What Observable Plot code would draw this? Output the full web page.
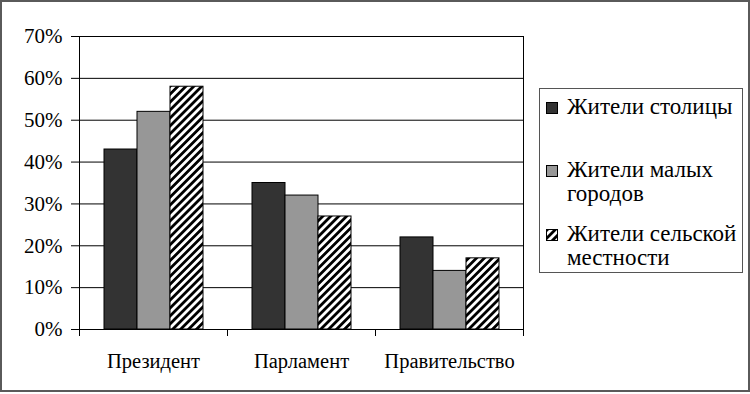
<!DOCTYPE html>
<html>
<head>
<meta charset="utf-8">
<script src="https://cdn.jsdelivr.net/npm/d3@7"></script>
<script src="https://cdn.jsdelivr.net/npm/@observablehq/plot@0.6"></script>
<style>
  html, body { margin: 0; padding: 0; background: #fff; }
  #wrap { position: relative; width: 750px; height: 394px; overflow: hidden; font-family: "Liberation Serif", "DejaVu Serif", "Times New Roman", serif; }
  #border { position: absolute; left: 0; top: 0; width: 746px; height: 388px; border: 2px solid #5a5a5a; }
  #chart { position: absolute; left: 0; top: 0; }
  #legend { position: absolute; left: 539px; top: 88px; width: 202px; height: 183px; border: 1.5px solid #555; background: #fff; }
  .item { position: absolute; left: 0; font-family: "Liberation Serif", "DejaVu Serif", "Times New Roman", serif; font-size: 23px; line-height: 24px; color: #000; }
  .item svg { position: absolute; left: 6px; }
  .item span { position: absolute; left: 27px; white-space: nowrap; }
</style>
</head>
<body>
<div id="wrap">
  <div id="chart"></div>
  <div id="legend"></div>
  <div id="border"></div>
</div>
<script>
// ---- data ----
const categories = ["Президент", "Парламент", "Правительство"];
const series = ["Жители столицы", "Жители малых городов", "Жители сельской местности"];
const legendLines = [["Жители столицы"], ["Жители малых", "городов"], ["Жители сельской", "местности"]];
const valuesCapital = [0.43, 0.35, 0.22];
const valuesTowns   = [0.52, 0.32, 0.14];
const valuesRural   = [0.58, 0.27, 0.17];
const yTicks = [0, 0.1, 0.2, 0.3, 0.4, 0.5, 0.6, 0.7];
const colors = ["#333333", "#979797", "url(#hatch)"];

const seriesValues = [valuesCapital, valuesTowns, valuesRural];
const table = [];
categories.forEach((c, i) => series.forEach((s, j) => table.push({cat: c, series: s, value: seriesValues[j][i]})));

// ---- layout ----
const W = 530, H = 394, ML = 78, MR = 6, MT = 36, MB = 65;
const innerH = H - MT - MB;

const plot = Plot.plot({
  width: W, height: H,
  marginLeft: ML, marginRight: MR, marginTop: MT, marginBottom: MB,
  style: {fontFamily: '"Liberation Serif", "DejaVu Serif", "Times New Roman", serif', background: "transparent", color: "#000"},
  fx: {domain: categories, padding: 0, axis: null, label: null},
  x: {domain: series, paddingInner: 0, paddingOuter: 0.72, axis: null, label: null},
  y: {domain: [0, 0.7], axis: null, label: null},
  color: {domain: series, range: colors},
  marks: [
    Plot.ruleY(yTicks, {stroke: "#000", strokeWidth: 1}),
    Plot.barY(table, {fx: "cat", x: "series", y: "value", fill: "series", stroke: "#000", strokeWidth: 1}),
    Plot.frame({anchor: "left", facetAnchor: "left", insetBottom: -6, stroke: "#000"}),
    Plot.frame({anchor: "left", insetTop: innerH, insetBottom: -6, stroke: "#000"}),
    Plot.frame({anchor: "right", facetAnchor: "right", insetBottom: -6, stroke: "#000"}),
    Plot.axisY({ticks: yTicks, tickFormat: d3.format(".0%"), tickSize: 8, tickPadding: 9, fontSize: 21, stroke: "#000", label: null}),
    Plot.axisFx({anchor: "bottom", tickSize: 0, tickPadding: 24, fontSize: 20.5, label: null})
  ]
});

// hatch pattern
const NS = "http://www.w3.org/2000/svg";
function addDefs(svg) {
  const defs = document.createElementNS(NS, "defs");
  const pat = document.createElementNS(NS, "pattern");
  pat.setAttribute("id", "hatch");
  pat.setAttribute("patternUnits", "userSpaceOnUse");
  pat.setAttribute("width", "5.6");
  pat.setAttribute("height", "5.6");
  pat.setAttribute("patternTransform", "rotate(45)");
  const bg = document.createElementNS(NS, "rect");
  bg.setAttribute("width", "5.6"); bg.setAttribute("height", "5.6"); bg.setAttribute("fill", "#fff");
  const st = document.createElementNS(NS, "rect");
  st.setAttribute("width", "2.8"); st.setAttribute("height", "5.6"); st.setAttribute("fill", "#000");
  pat.appendChild(bg); pat.appendChild(st);
  defs.appendChild(pat);
  svg.insertBefore(defs, svg.firstChild);
}
addDefs(plot);
document.getElementById("chart").appendChild(plot);

// legend
const legend = document.getElementById("legend");
const itemTops = [6, 69, 133];
legendLines.forEach((lines, j) => {
  const it = document.createElement("div");
  it.className = "item";
  it.style.top = itemTops[j] + "px";
  const sw = document.createElementNS(NS, "svg");
  sw.setAttribute("width", "12"); sw.setAttribute("height", "12");
  sw.style.top = "7px";
  const r = document.createElementNS(NS, "rect");
  r.setAttribute("x", "0.5"); r.setAttribute("y", "0.5"); r.setAttribute("width", "11"); r.setAttribute("height", "11");
  r.setAttribute("fill", colors[j]); r.setAttribute("stroke", "#000");
  sw.appendChild(r);
  it.appendChild(sw);
  lines.forEach((t, k) => {
    const sp = document.createElement("span");
    sp.textContent = t;
    sp.style.top = (k * 24) + "px";
    it.appendChild(sp);
  });
  legend.appendChild(it);
});
</script>
</body>
</html>
